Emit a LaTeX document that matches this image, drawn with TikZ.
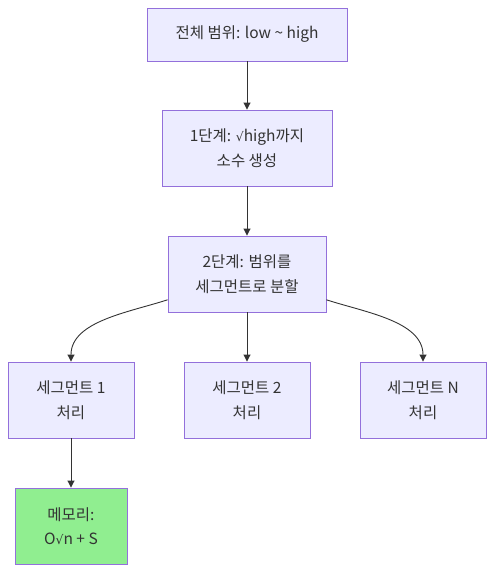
\documentclass[tikz,border=0pt]{standalone}
\usepackage{fontspec}
\setmainfont{Noto Sans CJK KR}
\newfontfamily\symfont{DejaVu Sans}
\usepackage{tikz}
\usetikzlibrary{arrows.meta}

\definecolor{boxfill}{HTML}{ECECFF}
\definecolor{boxline}{HTML}{9370DB}
\definecolor{memfill}{HTML}{90EE90}
\definecolor{txt}{HTML}{333333}

\newcommand{\rootsign}{{\symfont\scalebox{0.8}{√}}}

\begin{document}
\begin{tikzpicture}[
  x=1pt, y=-1pt,
  bnode/.style={draw=boxline,fill=boxfill,line width=0.9pt,rectangle,inner sep=0pt,
    text=txt,font=\fontsize{15.5}{24.5}\selectfont,align=center},
  mnode/.style={bnode,fill=memfill},
  arr/.style={draw=txt,line width=0.9pt,-{Triangle[length=7pt,width=7pt]}}
]
  \useasboundingbox (0,0) rectangle (504,582);

  % steps
  \node[bnode,minimum width=200pt,minimum height=53pt] (all) at (247,34.5) {전체 범위: low \textasciitilde{} high};
  \node[bnode,minimum width=170pt,minimum height=76pt] (s1) at (247,148) {1단계: \rootsign high까지\\소수 생성};
  \node[bnode,minimum width=158pt,minimum height=76pt] (s2) at (247,274) {2단계: 범위를\\세그먼트로 분할};

  % segments
  \node[bnode,minimum width=126pt,minimum height=76pt] (g1) at (71,400) {세그먼트 1\\처리};
  \node[bnode,minimum width=126pt,minimum height=76pt] (g2) at (247,400) {세그먼트 2\\처리};
  \node[bnode,minimum width=126pt,minimum height=76pt] (gn) at (423,400) {세그먼트 N\\처리};

  % memory
  \node[mnode,minimum width=112pt,minimum height=76pt] (mem) at (71,526) {메모리:\\O\rootsign n + S};

  % edges
  \draw[arr] (all) -- (s1);
  \draw[arr] (s1) -- (s2);
  \draw[arr] (s2) to[out=198,in=90,looseness=0.9] (g1);
  \draw[arr] (s2) -- (g2);
  \draw[arr] (s2) to[out=-18,in=90,looseness=0.9] (gn);
  \draw[arr] (g1) -- (mem);

\end{tikzpicture}
\end{document}
